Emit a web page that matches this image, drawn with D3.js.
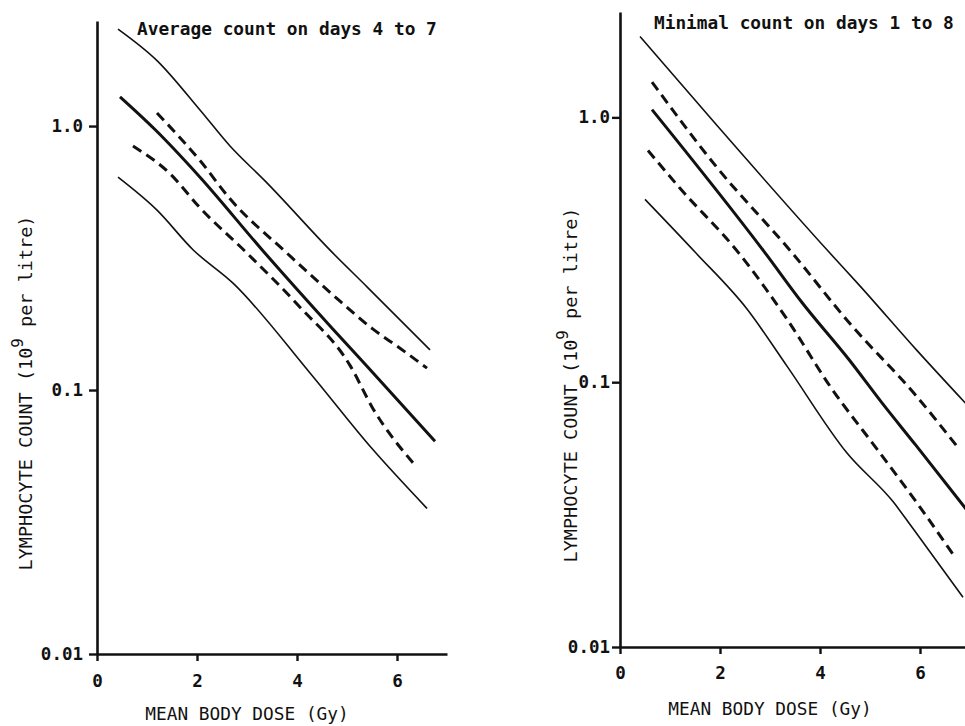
<!DOCTYPE html>
<html>
<head>
<meta charset="utf-8">
<script src="https://cdn.jsdelivr.net/npm/d3@7"></script>
<style>
  body { margin: 0; background: #fff; }
  text { font-family: "DejaVu Sans Mono", "Liberation Mono", monospace; font-weight: bold; fill: #111; }
</style>
</head>
<body>
<div id="chart"></div>
<script>
// dose (Gy), lymphocyte count (10^9 per litre)
var avgUpper = [[0.42, 2.33], [1.2, 1.77], [2.06, 1.15], [2.66, 0.84], [3.36, 0.62], [4.72, 0.33], [5.4, 0.246], [6.66, 0.142]];
var avgMean = [[0.46, 1.29], [1.16, 0.97], [2.06, 0.64], [3.3, 0.34], [4.72, 0.17], [5.4, 0.123], [6.76, 0.064]];
var avgUpperDash = [[1.2, 1.12], [2.06, 0.74], [2.66, 0.53], [3.8, 0.33], [4.86, 0.217], [5.52, 0.17], [6.06, 0.144], [6.6, 0.121]];
var avgLowerDash = [[0.72, 0.84], [1.46, 0.66], [2.06, 0.49], [3.0, 0.33], [4.06, 0.206], [5.06, 0.124], [5.52, 0.085], [6.32, 0.053]];
var avgLower = [[0.42, 0.64], [1.2, 0.48], [1.92, 0.34], [2.72, 0.254], [4.26, 0.116], [5.5, 0.06], [6.6, 0.0356]];

var minUpper = [[0.4, 2.02], [1.88, 0.96], [4.18, 0.31], [4.78, 0.233], [5.92, 0.133], [6.97, 0.081]];
var minMean = [[0.64, 1.07], [2.89, 0.31], [3.64, 0.2], [4.59, 0.121], [5.24, 0.0835], [5.92, 0.0577], [6.93, 0.033]];
var minUpperDash = [[0.64, 1.36], [1.93, 0.65], [3.43, 0.31], [4.58, 0.168], [5.92, 0.089], [6.78, 0.056]];
var minLowerDash = [[0.56, 0.75], [1.2, 0.54], [2.36, 0.31], [3.34, 0.173], [4.2, 0.0966], [5.2, 0.054], [5.92, 0.0354], [6.66, 0.0224]];
var minLower = [[0.5, 0.49], [1.5, 0.31], [2.54, 0.189], [3.34, 0.115], [4.54, 0.054], [5.46, 0.0354], [5.86, 0.028], [6.86, 0.0154]];

var doseTicks = [0, 2, 4, 6];
var countTicks = [0.01, 0.1, 1];
var countTickLabels = ["0.01", "0.1", "1.0"];
var titles = ["Average count on days 4 to 7", "Minimal count on days 1 to 8"];

var width = 965,
  height = 726;

var svg = d3.select("#chart").append("svg")
  .attr("width", width)
  .attr("height", height);

function drawPanel(opt) {
  var x = d3.scaleLinear().domain([0, 7]).range([opt.x0, opt.x0 + 350]),
    y = d3.scaleLog().domain([0.01, 2.5]).range([opt.y0, opt.yTop]);

  var g = svg.append("g");

  // axes
  var yAxis = d3.axisLeft(y)
    .tickValues(countTicks)
    .tickFormat(function(d, i) { return countTickLabels[i]; })
    .tickSize(opt.tick)
    .tickSizeOuter(0)
    .tickPadding(opt.pad);
  var ya = g.append("g")
    .attr("transform", "translate(" + opt.x0 + ",0)")
    .call(yAxis);

  var xAxis = d3.axisBottom(x)
    .tickValues(doseTicks)
    .tickFormat(d3.format("d"))
    .tickSize(7)
    .tickSizeOuter(0)
    .tickPadding(opt.xpad);
  var xa = g.append("g")
    .attr("transform", "translate(0," + opt.y0 + ")")
    .call(xAxis);

  [ya, xa].forEach(function(a) {
    a.select(".domain").attr("stroke", "#111").attr("stroke-width", 2.6);
    a.selectAll(".tick line").attr("stroke", "#111").attr("stroke-width", 2.4);
    a.selectAll(".tick text")
      .style("font-family", "'DejaVu Sans Mono', monospace")
      .style("font-weight", "bold")
      .style("font-size", "17.5px")
      .attr("fill", "#111");
  });

  // curves
  var line = d3.line()
    .x(function(d) { return x(d[0]); })
    .y(function(d) { return y(d[1]); })
    .curve(d3.curveMonotoneX);

  opt.series.forEach(function(s) {
    g.append("path")
      .datum(s.data)
      .attr("d", line)
      .attr("fill", "none")
      .attr("stroke", "#111")
      .attr("stroke-width", s.w)
      .attr("stroke-dasharray", s.dash ? "10,6" : null);
  });

  // texts
  g.append("text")
    .attr("x", opt.titleX)
    .attr("y", opt.titleY)
    .style("font-size", "17.8px")
    .text(opt.title);

  g.append("text")
    .attr("x", x(3))
    .attr("y", opt.y0 + opt.xlabDy)
    .attr("text-anchor", "middle")
    .style("font-size", "17.8px")
    .style("font-weight", "normal")
    .text("MEAN BODY DOSE (Gy)");

  var yl = g.append("text")
    .attr("transform", "translate(" + opt.ylabX + "," + opt.ylabY + ") rotate(-90)")
    .attr("text-anchor", "middle")
    .style("font-size", "18.5px")
    .style("font-weight", "normal");
  yl.append("tspan").text("LYMPHOCYTE COUNT (10");
  yl.append("tspan").attr("dy", -9).style("font-size", "16px").text("9");
  yl.append("tspan").attr("dy", 9).text(" per litre)");
}

drawPanel({
  x0: 97, y0: 654, yTop: 21, tick: 8, pad: 6, xpad: 14, xlabDy: 66,
  title: titles[0], titleX: 137, titleY: 35,
  ylabX: 32, ylabY: 393,
  series: [
    {data: avgUpper, w: 1.6},
    {data: avgMean, w: 3},
    {data: avgUpperDash, w: 3, dash: true},
    {data: avgLowerDash, w: 3, dash: true},
    {data: avgLower, w: 1.6}
  ]
});

drawPanel({
  x0: 620, y0: 647, yTop: 12, tick: 8, pad: 2, xpad: 13, xlabDy: 68,
  title: titles[1], titleX: 654, titleY: 29,
  ylabX: 577, ylabY: 385,
  series: [
    {data: minUpper, w: 1.6},
    {data: minMean, w: 3},
    {data: minUpperDash, w: 3, dash: true},
    {data: minLowerDash, w: 3, dash: true},
    {data: minLower, w: 1.6}
  ]
});
</script>
</body>
</html>
